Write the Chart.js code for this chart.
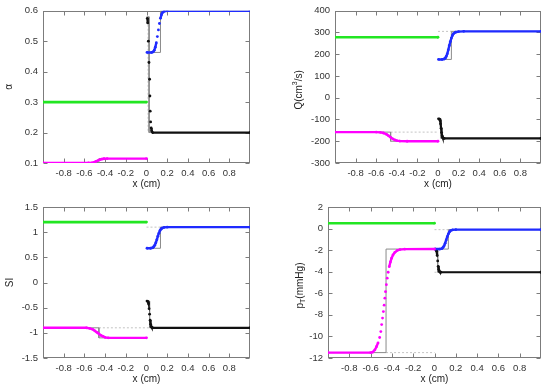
<!DOCTYPE html>
<html><head><meta charset="utf-8">
<script src="https://cdn.jsdelivr.net/npm/chart.js@4"></script>
<style>
body{margin:0;background:#fff;width:550px;height:391px;overflow:hidden;position:relative}
.p{position:absolute}
canvas{display:block}
</style></head><body>
<div class="p" style="left:0;top:0"><canvas id="c1" width="275" height="195"></canvas></div>
<div class="p" style="left:275px;top:0"><canvas id="c2" width="275" height="195"></canvas></div>
<div class="p" style="left:0;top:195px"><canvas id="c3" width="275" height="196"></canvas></div>
<div class="p" style="left:275px;top:195px"><canvas id="c4" width="275" height="196"></canvas></div>
<script>
// ---------- data ----------
const xTicks = [-0.8,-0.6,-0.4,-0.2,0,0.2,0.4,0.6,0.8];

// alpha
const alphaTicks = [0.1,0.2,0.3,0.4,0.5,0.6];
const alphaGreen = [[-1,0.3],[0,0.3]];
const alphaMagenta = [[-1,0.1],[-0.56,0.1],[-0.53,0.1005],[-0.51,0.102],[-0.49,0.105],[-0.47,0.108],[-0.45,0.111],[-0.43,0.113],[-0.41,0.114],[-0.38,0.1145],[0,0.1145]];
const alphaBlue = [[0.005,0.463],[0.05,0.463],[0.065,0.465],[0.075,0.47],[0.085,0.48],[0.095,0.495],[0.105,0.515],[0.115,0.537],[0.125,0.558],[0.135,0.575],[0.145,0.587],[0.155,0.594],[0.17,0.598],[0.2,0.6],[1,0.6]];
const alphaBlack = [[0.008,0.575],[0.012,0.56],[0.018,0.5],[0.024,0.43],[0.03,0.375],[0.033,0.32],[0.036,0.27],[0.04,0.235],[0.045,0.215],[0.05,0.205],[0.06,0.2],[1,0.2]];
const alphaExact = [
  [[-1,0.1],[-0.46,0.1],[-0.46,0.1145],[0,0.1145]],
  [[0,0.58],[0.025,0.58],[0.025,0.2],[1,0.2]],
  [[0.02,0.463],[0.135,0.463],[0.135,0.6],[1,0.6]]
];
const alphaDotted = [
  [[0.015,0.58],[0.015,0.2]]
];

// Q
const qTicks = [-300,-200,-100,0,100,200,300,400];
const qGreen = [[-1,278],[0,278]];
const qMagenta = [[-1,-158],[-0.6,-158],[-0.56,-159],[-0.53,-162],[-0.5,-168],[-0.48,-175],[-0.46,-182],[-0.44,-189],[-0.42,-194],[-0.4,-197],[-0.37,-199],[-0.3,-200],[0,-200]];
const qBlue = [[0.005,176],[0.04,176],[0.06,178],[0.07,182],[0.08,190],[0.09,202],[0.1,220],[0.11,240],[0.12,258],[0.13,274],[0.14,286],[0.15,294],[0.17,301],[0.2,304],[0.25,305],[1,305]];
const qBlack = [[0.005,-97],[0.015,-98],[0.02,-105],[0.025,-120],[0.03,-140],[0.035,-160],[0.04,-175],[0.045,-182],[0.05,-186],[0.06,-187],[1,-187]];
const qExact = [
  [[-1,-158],[-0.46,-158],[-0.46,-200],[0,-200]],
  [[0,-97],[0.03,-97],[0.03,-187],[1,-187]],
  [[0,176],[0.13,176],[0.13,305],[1,305]]
];
const qDotted = [
  [[-0.46,-158],[0,-158]],
  [[0,305],[0.13,305]]
];

// SI
const siTicks = [-1.5,-1,-0.5,0,0.5,1,1.5];
const siGreen = [[-1,1.2],[0,1.2]];
const siMagenta = [[-1,-0.9],[-0.58,-0.9],[-0.55,-0.91],[-0.52,-0.93],[-0.5,-0.96],[-0.48,-0.99],[-0.46,-1.02],[-0.44,-1.05],[-0.42,-1.07],[-0.4,-1.09],[-0.37,-1.1],[0,-1.1]];
const siBlue = [[0.005,0.68],[0.04,0.68],[0.06,0.69],[0.07,0.71],[0.08,0.74],[0.09,0.79],[0.1,0.85],[0.11,0.92],[0.12,0.98],[0.13,1.03],[0.14,1.06],[0.15,1.08],[0.17,1.095],[0.2,1.1],[1,1.1]];
const siBlack = [[0.005,-0.37],[0.015,-0.38],[0.02,-0.42],[0.025,-0.52],[0.03,-0.63],[0.035,-0.75],[0.04,-0.83],[0.045,-0.87],[0.05,-0.89],[0.06,-0.9],[1,-0.9]];
const siExact = [
  [[-1,-0.9],[-0.46,-0.9],[-0.46,-1.1],[0,-1.1]],
  [[0,-0.37],[0.03,-0.37],[0.03,-0.9],[1,-0.9]],
  [[0,0.68],[0.135,0.68],[0.135,1.1],[1,1.1]]
];
const siDotted = [
  [[-0.46,-0.9],[0.05,-0.9]],
  [[0,1.1],[0.135,1.1]]
];

// pT
const pTicks = [-12,-10,-8,-6,-4,-2,0,2];
const pGreen = [[-1,0.5],[0,0.5]];
const pMagenta = [[-1,-11.5],[-0.6,-11.5],[-0.58,-11.45],[-0.56,-11.25],[-0.545,-10.95],[-0.53,-10.6],[-0.515,-10.1],[-0.504,-9.55],[-0.496,-8.9],[-0.488,-8.3],[-0.48,-7.7],[-0.473,-7.1],[-0.466,-6.45],[-0.46,-5.85],[-0.452,-5.2],[-0.444,-4.6],[-0.435,-4.05],[-0.425,-3.53],[-0.414,-3.1],[-0.403,-2.75],[-0.39,-2.45],[-0.372,-2.2],[-0.35,-2.03],[-0.325,-1.95],[-0.28,-1.91],[0,-1.9]];
const pBlue = [[0.005,-1.9],[0.05,-1.9],[0.07,-1.85],[0.08,-1.75],[0.09,-1.6],[0.1,-1.35],[0.11,-1.05],[0.12,-0.75],[0.13,-0.5],[0.14,-0.32],[0.15,-0.2],[0.17,-0.12],[0.2,-0.1],[1,-0.1]];
const pBlack = [[0.005,-1.9],[0.015,-1.95],[0.02,-2.1],[0.025,-2.5],[0.03,-3.0],[0.035,-3.5],[0.04,-3.8],[0.045,-3.95],[0.05,-4.02],[0.06,-4.05],[1,-4.05]];
const pExact = [
  [[-1,-11.5],[-0.455,-11.5],[-0.455,-1.9],[0,-1.9]],
  [[0,-1.9],[0.03,-1.9],[0.03,-4.05],[1,-4.05]],
  [[0,-1.9],[0.13,-1.9],[0.13,-0.1],[1,-0.1]]
];
const pDotted = [
  [[-0.455,-11.5],[0,-11.5]],
  [[0,-0.1],[0.13,-0.1]],
  [[0,-4.05],[0.03,-4.05]]
];

// ---------- rendering ----------
const FONT = '"Liberation Sans", Arial, sans-serif';
Chart.defaults.font.family = FONT;
const GREEN = '#22e622', MAGENTA = '#ff00ff', BLUE = '#1f2bff', BLACK = '#111111';

const pts = d => d.map(([x,y]) => ({x,y}));
function series(d, color, w){
  return {data:pts(d), borderColor:color, backgroundColor:color, borderWidth:w, showLine:true,
    pointRadius:1.4, pointHoverRadius:0, pointBorderWidth:0, pointBackgroundColor:color, order:1,
    segment:{borderColor:c => Math.abs(c.p1.y - c.p0.y) > 5 ? 'rgba(0,0,0,0)' : undefined}};
}
function exact(d){ return {data:pts(d), borderColor:'#8a8a8a', borderWidth:1, showLine:true, pointRadius:0, order:3}; }
function dotted(d){ return {data:pts(d), borderColor:'#c4c4c4', borderWidth:1, borderDash:[2,2], showLine:true, pointRadius:0, order:4}; }

const framePlugin = {
  id:'frame',
  beforeDatasetsDraw(chart){
    const {ctx, chartArea:a, scales:{x,y}} = chart;
    const L = Math.round(a.left)+0.5, R = Math.round(a.right)-0.5, T = Math.round(a.top)+0.5, B = Math.round(a.bottom)-0.5;
    ctx.save();
    ctx.strokeStyle = '#7c7c7c'; ctx.lineWidth = 1;
    ctx.beginPath();
    x.ticks.forEach(t => { const px = Math.round(x.getPixelForValue(t.value))+0.5;
      ctx.moveTo(px,B); ctx.lineTo(px,B-4); ctx.moveTo(px,T); ctx.lineTo(px,T+4); });
    y.ticks.forEach(t => { const py = Math.round(y.getPixelForValue(t.value))+0.5;
      ctx.moveTo(L,py); ctx.lineTo(L+4,py); ctx.moveTo(R,py); ctx.lineTo(R-4,py); });
    ctx.stroke();
    ctx.strokeRect(L, T, R-L, B-T);
    ctx.restore();
  }
};
const titlePlugin = {
  id:'axisTitle',
  afterDraw(chart, args, o){
    const {ctx, chartArea:a} = chart;
    ctx.save();
    ctx.fillStyle = '#222';
    ctx.font = '10px ' + FONT; ctx.textAlign = 'center'; ctx.textBaseline = 'middle';
    ctx.fillText(o.xText, (a.left+a.right)/2, a.bottom + 21);
    ctx.translate(o.yX, (a.top+a.bottom)/2 + (o.yDy||0));
    ctx.rotate(-Math.PI/2);
    let total = 0;
    o.yParts.forEach(p => { ctx.font = p.size + 'px ' + FONT; p.w = ctx.measureText(p.t).width; total += p.w; });
    let cx = -total/2; ctx.textAlign = 'left';
    o.yParts.forEach(p => { ctx.font = p.size + 'px ' + FONT; ctx.fillText(p.t, cx, p.dy||0); cx += p.w; });
    ctx.restore();
  }
};

function makeChart(id, c){
  const tickCfg = {color:'#333', padding:5, font:{size:9.5, family:FONT}, callback:v => String(v)};
  new Chart(document.getElementById(id), {
    type:'scatter',
    data:{datasets:c.datasets},
    options:{
      responsive:false, animation:false, devicePixelRatio:1, events:[],
      layout:{padding:{top:c.top, right:c.W - c.right, left:0, bottom:0}},
      plugins:{legend:{display:false}, tooltip:{enabled:false},
        axisTitle:{xText:'x (cm)', yX:c.yX, yParts:c.yParts, yDy:c.yDy}},
      scales:{
        x:{type:'linear', min:-1, max:1,
          afterBuildTicks:s => { s.ticks = xTicks.map(v => ({value:v})); },
          afterFit:s => { s.height = c.H - c.bottom; },
          grid:{display:false, drawTicks:false}, border:{display:false}, ticks:tickCfg},
        y:{type:'linear', min:c.yTicks[0], max:c.yTicks[c.yTicks.length-1],
          afterBuildTicks:s => { s.ticks = c.yTicks.map(v => ({value:v})); },
          afterFit:s => { s.width = c.left; },
          grid:{display:false, drawTicks:false}, border:{display:false}, ticks:tickCfg}
      }
    },
    plugins:[framePlugin, titlePlugin]
  });
}
function sets(g, m, b, k, ex, dt){
  return [series(g, GREEN, 2.6), series(m, MAGENTA, 2.4), series(b, BLUE, 2.4), series(k, BLACK, 2.2),
    ...ex.map(exact), ...dt.map(dotted)];
}

makeChart('c1', {W:275, H:195, left:43, right:250, top:10, bottom:163, yTicks:alphaTicks, yX:9,
  yParts:[{t:'α', size:10}], datasets:sets(alphaGreen, alphaMagenta, alphaBlue, alphaBlack, alphaExact, alphaDotted)});
makeChart('c2', {W:275, H:195, left:60, right:266, top:10, bottom:163, yTicks:qTicks, yX:24, yDy:3,
  yParts:[{t:'Q(cm', size:10},{t:'3', size:7, dy:-4},{t:'/s)', size:10}], datasets:sets(qGreen, qMagenta, qBlue, qBlack, qExact, qDotted)});
makeChart('c3', {W:275, H:196, left:43, right:250, top:12, bottom:163, yTicks:siTicks, yX:10,
  yParts:[{t:'SI', size:10}], datasets:sets(siGreen, siMagenta, siBlue, siBlack, siExact, siDotted)});
makeChart('c4', {W:275, H:196, left:53, right:266, top:12, bottom:163, yTicks:pTicks, yX:25, yDy:3,
  yParts:[{t:'p', size:10},{t:'T', size:7, dy:3},{t:'(mmHg)', size:10}], datasets:sets(pGreen, pMagenta, pBlue, pBlack, pExact, pDotted)});
</script>
</body></html>
